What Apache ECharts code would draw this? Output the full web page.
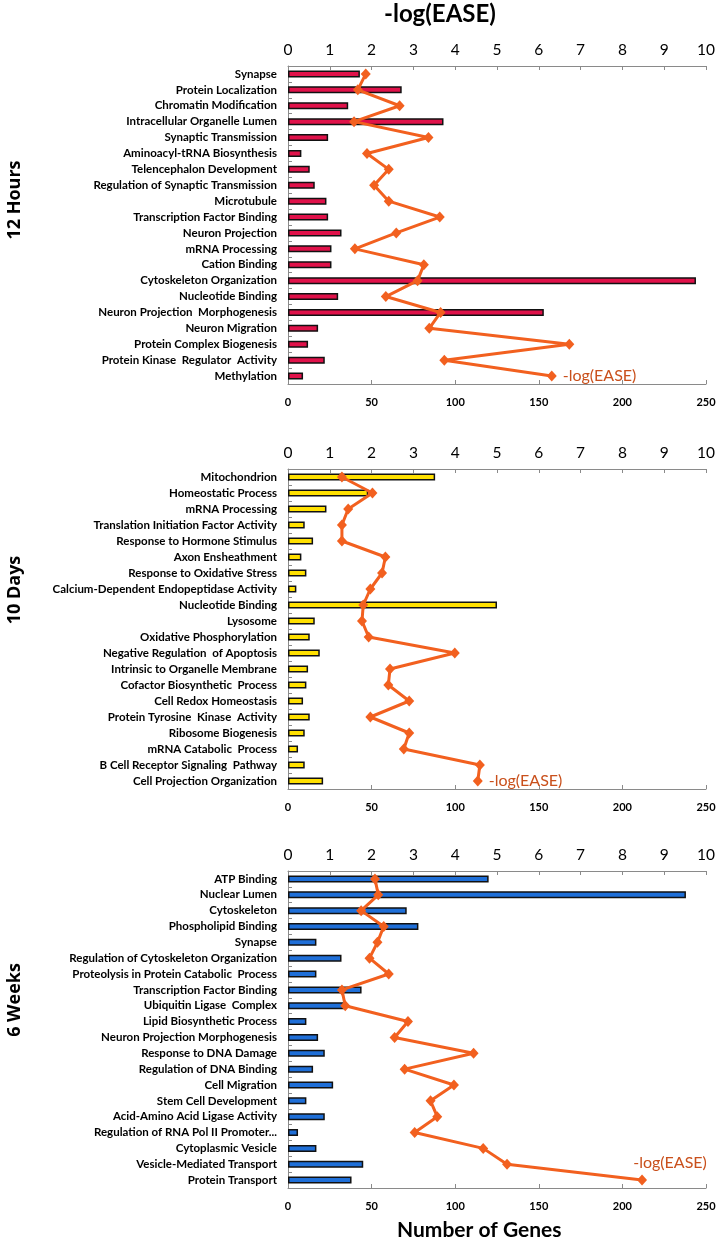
<!DOCTYPE html>
<html><head><meta charset="utf-8">
<script src="https://cdn.jsdelivr.net/npm/echarts@6/dist/echarts.min.js"></script>
<style>html,body{margin:0;padding:0;background:#fff}#c{width:725px;height:1249px}</style>
</head><body><div id="c"></div>
<script>
// ---- data ----
const genesTicks = [0, 50, 100, 150, 200, 250];
const easeTicks = [0, 1, 2, 3, 4, 5, 6, 7, 8, 9, 10];

const cat12h = ['Synapse','Protein Localization','Chromatin Modification','Intracellular Organelle Lumen','Synaptic Transmission','Aminoacyl-tRNA Biosynthesis','Telencephalon Development','Regulation of Synaptic Transmission','Microtubule','Transcription Factor Binding','Neuron Projection','mRNA Processing','Cation Binding','Cytoskeleton Organization','Nucleotide Binding','Neuron Projection  Morphogenesis','Neuron Migration','Protein Complex Biogenesis','Protein Kinase  Regulator  Activity','Methylation'];
const genes12h = [43, 68, 36, 93, 24, 8, 13, 16, 23, 24, 32, 26, 26, 244, 30, 153, 18, 12, 22, 9];
const ease12h = [1.86, 1.67, 2.67, 1.58, 3.36, 1.89, 2.41, 2.06, 2.41, 3.63, 2.59, 1.60, 3.25, 3.10, 2.34, 3.65, 3.38, 6.73, 3.74, 6.31];

const cat10d = ['Mitochondrion','Homeostatic Process','mRNA Processing','Translation Initiation Factor Activity','Response to Hormone Stimulus','Axon Ensheathment','Response to Oxidative Stress','Calcium-Dependent Endopeptidase Activity','Nucleotide Binding','Lysosome','Oxidative Phosphorylation','Negative Regulation  of Apoptosis','Intrinsic to Organelle Membrane','Cofactor Biosynthetic  Process','Cell Redox Homeostasis','Protein Tyrosine  Kinase  Activity','Ribosome Biogenesis','mRNA Catabolic  Process','B Cell Receptor Signaling  Pathway','Cell Projection Organization'];
const genes10d = [88, 48, 23, 10, 15, 8, 11, 5, 125, 16, 13, 19, 12, 11, 9, 13, 10, 6, 10, 21];
const ease10d = [1.29, 2.02, 1.44, 1.29, 1.29, 2.33, 2.25, 1.97, 1.80, 1.77, 1.93, 3.99, 2.44, 2.40, 2.90, 1.97, 2.90, 2.77, 4.59, 4.54];

const cat6w = ['ATP Binding','Nuclear Lumen','Cytoskeleton','Phospholipid Binding','Synapse','Regulation of Cytoskeleton Organization','Proteolysis in Protein Catabolic  Process','Transcription Factor Binding','Ubiquitin Ligase  Complex','Lipid Biosynthetic Process','Neuron Projection Morphogenesis','Response to DNA Damage','Regulation of DNA Binding','Cell Migration','Stem Cell Development','Acid-Amino Acid Ligase Activity','Regulation of RNA Pol II Promoter...','Cytoplasmic Vesicle','Vesicle-Mediated Transport','Protein Transport'];
const genes6w = [120, 238, 71, 78, 17, 32, 17, 44, 34, 11, 18, 22, 15, 27, 11, 22, 6, 17, 45, 38];
const ease6w = [2.08, 2.16, 1.75, 2.29, 2.14, 1.95, 2.41, 1.29, 1.37, 2.87, 2.55, 4.44, 2.79, 3.97, 3.41, 3.57, 3.03, 4.67, 5.24, 8.47];

const panelNames = ['12 Hours', '10 Days', '6 Weeks'];
const lineName = '-log(EASE)';

// ---- styling ----
const F = 'Lato, "Open Sans", sans-serif';
const CATF = '"Liberation Sans Narrow", Lato, sans-serif';
const axisGray = '#8a8a8a';
const lineColor = '#F2601F';
const labelColor = '#C9501C';
const barColors = ['#E0124A', '#FFE000', '#1F6FD8'];

const grids = [
  {left: 288, right: 19, top: 66, height: 318},
  {left: 288, right: 19, top: 469, height: 320},
  {left: 288, right: 19, top: 871, height: 317}
];
const cats = [cat12h, cat10d, cat6w];
const genes = [genes12h, genes10d, genes6w];
const eases = [ease12h, ease10d, ease6w];
const lastLabelPos = [
  {position: 'right', distance: 6, offset: [0, 0]},
  {position: 'right', distance: 6, offset: [0, 0]},
  {position: 'top', distance: 2, offset: [28, -2]}
];

const xAxes = [], yAxes = [], series = [];
grids.forEach((g, i) => {
  xAxes.push({
    gridIndex: i, type: 'value', position: 'bottom',
    min: genesTicks[0], max: genesTicks[genesTicks.length - 1], interval: genesTicks[1] - genesTicks[0],
    axisLine: {show: true, lineStyle: {color: axisGray, width: 1}},
    axisTick: {show: true, inside: true, length: 4, lineStyle: {color: axisGray}},
    splitLine: {show: false},
    axisLabel: {fontFamily: F, fontWeight: 'bold', fontSize: 11, color: '#000', margin: 13}
  });
  xAxes.push({
    gridIndex: i, type: 'value', position: 'top',
    min: easeTicks[0], max: easeTicks[easeTicks.length - 1], interval: easeTicks[1] - easeTicks[0],
    axisLine: {show: true, lineStyle: {color: axisGray, width: 1}},
    axisTick: {show: true, inside: true, length: 4, lineStyle: {color: axisGray}},
    splitLine: {show: false},
    axisLabel: {fontFamily: F, fontSize: 15.5, color: '#000', margin: 8}
  });
  yAxes.push({
    gridIndex: i, type: 'category', inverse: true, data: cats[i],
    axisLine: {show: true, lineStyle: {color: axisGray, width: 1}},
    axisTick: {show: true, inside: true, length: 4, lineStyle: {color: axisGray}},
    splitLine: {show: false},
    axisLabel: {fontFamily: CATF, fontWeight: 'bold', fontSize: 11.5, color: '#000', margin: 11}
  });
  series.push({
    type: 'bar', xAxisIndex: i * 2, yAxisIndex: i,
    data: genes[i], barWidth: 7,
    itemStyle: {color: barColors[i], borderColor: '#111', borderWidth: 1.5}
  });
  const ed = eases[i].map((v, k) => k === eases[i].length - 1 ? {
    value: v,
    label: Object.assign({show: true, formatter: lineName, color: labelColor, fontFamily: F, fontSize: 16}, lastLabelPos[i])
  } : v);
  series.push({
    type: 'line', xAxisIndex: i * 2 + 1, yAxisIndex: i,
    data: ed, symbol: 'diamond', symbolSize: [10, 11],
    lineStyle: {color: lineColor, width: 3},
    itemStyle: {color: lineColor}, z: 5
  });
});

const chart = echarts.init(document.getElementById('c'), null, {renderer: 'canvas'});
chart.setOption({
  animation: false,
  backgroundColor: '#fff',
  grid: grids,
  xAxis: xAxes,
  yAxis: yAxes,
  series: series,
  graphic: [
    {type: 'text', left: 384, top: 2, style: {text: lineName, font: 'bold 24px ' + F, fill: '#000'}},
    {type: 'text', left: 397, top: 1220, style: {text: 'Number of Genes', font: 'bold 21px ' + F, fill: '#000'}},
    {type: 'text', x: 15, y: 200, rotation: Math.PI / 2, style: {text: panelNames[0], font: 'bold 18px "Open Sans", sans-serif', fill: '#000', align: 'center', verticalAlign: 'middle'}},
    {type: 'text', x: 15, y: 590, rotation: Math.PI / 2, style: {text: panelNames[1], font: 'bold 18px "Open Sans", sans-serif', fill: '#000', align: 'center', verticalAlign: 'middle'}},
    {type: 'text', x: 15, y: 1000, rotation: Math.PI / 2, style: {text: panelNames[2], font: 'bold 18px "Open Sans", sans-serif', fill: '#000', align: 'center', verticalAlign: 'middle'}}
  ]
});
</script></body></html>
